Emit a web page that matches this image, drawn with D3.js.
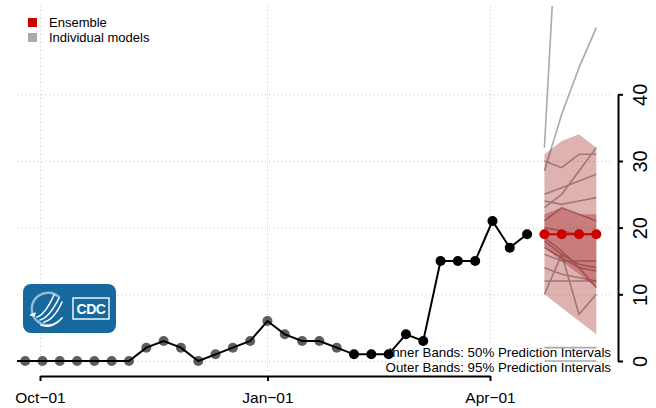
<!DOCTYPE html>
<html>
<head>
<meta charset="utf-8">
<script src="https://cdn.jsdelivr.net/npm/d3@7"></script>
<style>
  html, body { margin: 0; padding: 0; background: #fff; }
  svg { display: block; }
  text { font-family: "Liberation Sans", Arial, sans-serif; }
</style>
</head>
<body>
<svg id="chart" width="656" height="408"></svg>
<script>
// ---------- DATA ----------
const obsDates = ["2022-09-18","2022-09-25","2022-10-02","2022-10-09","2022-10-16","2022-10-23","2022-10-30",
  "2022-11-06","2022-11-13","2022-11-20","2022-11-27","2022-12-04","2022-12-11","2022-12-18","2022-12-25",
  "2023-01-01","2023-01-08","2023-01-15","2023-01-22","2023-01-29","2023-02-05","2023-02-12","2023-02-19",
  "2023-02-26","2023-03-05","2023-03-12","2023-03-19","2023-03-26","2023-04-02","2023-04-09","2023-04-16"];
const obsValues = [0,0,0,0,0,0,0, 0,2,3,2,0,1,2,3, 6,4,3,3,2,1,1,1, 4,3,15,15,15,21,17,19];
const greyThrough = "2023-01-29"; // older observations drawn in grey

const fcDates = ["2023-04-23","2023-04-30","2023-05-07","2023-05-14"];
const ensembleValues = [19, 19, 19, 19];
const inner50Lower = [17, 15, 13, 11];
const inner50Upper = [22, 23, 22, 22];
const outer95Lower = [10, 8, 6, 4];
const outer95Upper = [31, 33, 34, 32];

const modelForecasts = [
  [32, 79, 110, 140],
  [28.5, 37, 44, 50],
  [30, 29, 31, 31],
  [25, 26, 27, 28],
  [23, 25, 28.5, 32],
  [24, 23.5, 24, 24.5],
  [21, 23, 22, 21],
  [20, 19.5, 19, 19],
  [18.5, 16.5, 14, 11],
  [17, 15.5, 14, 13.5],
  [18, 16, 14.5, 14],
  [16, 15, 15, 15],
  [10, 16, 7, 10],
  [12, 12, 12, 12],
  [14, 13, 12.5, 12],
  [2, 2, 2, 2],
  [0, 0, 0, 0]
];

const xTickDates = ["2022-10-01", "2023-01-01", "2023-04-01"];
const xTickLabels = ["Oct\u221201", "Jan\u221201", "Apr\u221201"];
const yTickValues = [0, 10, 20, 30, 40];
const legendLabels = ["Ensemble", "Individual models"];
const noteLabels = ["Inner Bands: 50% Prediction Intervals", "Outer Bands: 95% Prediction Intervals"];

// ---------- SETUP ----------
const parse = d3.utcParse("%Y-%m-%d");
const svg = d3.select("#chart");

const x = d3.scaleUtc()
  .domain([parse("2022-10-01"), parse("2023-04-01")])
  .range([40, 490]);
const y = d3.scaleLinear().domain([0, 40]).range([361, 94.3]);

const plot = { left: 17, right: 613, top: 6, bottom: 371 };

svg.append("defs").append("clipPath").attr("id", "clip")
  .append("rect")
  .attr("x", plot.left).attr("y", plot.top)
  .attr("width", plot.right - plot.left).attr("height", plot.bottom - plot.top);

const obs = obsDates.map((d, i) => ({ date: parse(d), value: obsValues[i] }));
const fc = fcDates.map((d, i) => ({
  date: parse(d), ens: ensembleValues[i],
  lo50: inner50Lower[i], hi50: inner50Upper[i],
  lo95: outer95Lower[i], hi95: outer95Upper[i]
}));
const greyCut = parse(greyThrough);

// ---------- GRID ----------
const grid = svg.append("g").attr("stroke", "#c8c8c8").attr("stroke-width", 1)
  .attr("stroke-dasharray", "1,3");
grid.selectAll("line.h").data(yTickValues).join("line")
  .attr("x1", plot.left).attr("x2", plot.right)
  .attr("y1", d => y(d) + 0.5).attr("y2", d => y(d) + 0.5);
grid.selectAll("line.v").data(xTickDates).join("line")
  .attr("x1", d => Math.round(x(parse(d))) + 0.5).attr("x2", d => Math.round(x(parse(d))) + 0.5)
  .attr("y1", plot.top).attr("y2", plot.bottom);

// ---------- NOTES ----------
svg.append("g").selectAll("text").data(noteLabels).join("text")
  .attr("x", 611).attr("y", (d, i) => 357 + i * 14.5)
  .attr("text-anchor", "end")
  .attr("font-size", 13.3).attr("fill", "#000")
  .text(d => d);

const body = svg.append("g").attr("clip-path", "url(#clip)");

// ---------- MODEL LINES ----------
const mline = d3.line().x(d => x(d.date)).y(d => y(d.v));
body.append("g").selectAll("path").data(modelForecasts).join("path")
  .attr("d", vals => mline(vals.map((v, i) => ({ date: parse(fcDates[i]), v }))))
  .attr("fill", "none").attr("stroke", "#aaaaaa").attr("stroke-width", 1.6);

// ---------- BANDS ----------
const area95 = d3.area().x(d => x(d.date)).y0(d => y(d.lo95)).y1(d => y(d.hi95));
const area50 = d3.area().x(d => x(d.date)).y0(d => y(d.lo50)).y1(d => y(d.hi50));
body.append("path").attr("d", area95(fc)).attr("fill", "rgb(150,0,0)").attr("fill-opacity", 0.3);
body.append("path").attr("d", area50(fc)).attr("fill", "rgb(150,0,0)").attr("fill-opacity", 0.3);

// ---------- ENSEMBLE ----------
const eline = d3.line().x(d => x(d.date)).y(d => y(d.ens));
body.append("path").attr("d", eline(fc)).attr("fill", "none")
  .attr("stroke", "#cc0000").attr("stroke-width", 2);
body.append("g").selectAll("circle").data(fc).join("circle")
  .attr("cx", d => x(d.date)).attr("cy", d => y(d.ens)).attr("r", 5)
  .attr("fill", "#cc0000");

// ---------- OBSERVED ----------
const oline = d3.line().x(d => x(d.date)).y(d => y(d.value));
body.append("g").selectAll("circle").data(obs.filter(d => d.date <= greyCut)).join("circle")
  .attr("cx", d => x(d.date)).attr("cy", d => y(d.value)).attr("r", 5)
  .attr("fill", "#5e5e5e");
body.append("path").attr("d", oline(obs)).attr("fill", "none")
  .attr("stroke", "#000").attr("stroke-width", 2);
body.append("g").selectAll("circle").data(obs.filter(d => d.date > greyCut)).join("circle")
  .attr("cx", d => x(d.date)).attr("cy", d => y(d.value)).attr("r", 5)
  .attr("fill", "#000");

// ---------- AXES ----------
const xAxis = d3.axisBottom(x)
  .tickValues(xTickDates.map(parse))
  .tickFormat((d, i) => xTickLabels[i])
  .tickSize(5).tickSizeOuter(0);
const gx = svg.append("g").attr("transform", "translate(0,376)").call(xAxis);
gx.select(".domain").attr("stroke", "#000").attr("stroke-width", 2);
gx.selectAll(".tick line").attr("stroke", "#000").attr("stroke-width", 2);
gx.selectAll(".tick text").attr("font-size", 15.5).attr("fill", "#000")
  .attr("font-family", "Liberation Sans, Arial, sans-serif").attr("dy", "1.25em");

const yAxis = d3.axisRight(y).tickValues(yTickValues).tickSize(5).tickSizeOuter(0);
const gy = svg.append("g").attr("transform", "translate(618,0)").call(yAxis);
gy.select(".domain").attr("stroke", "#000").attr("stroke-width", 2);
gy.selectAll(".tick line").attr("stroke", "#000").attr("stroke-width", 2);
gy.selectAll(".tick text")
  .attr("font-size", 20).attr("fill", "#000")
  .attr("font-family", "Liberation Sans, Arial, sans-serif")
  .attr("x", null).attr("dy", null)
  .attr("text-anchor", "middle")
  .attr("transform", "translate(29,0) rotate(-90)");

// ---------- LEGEND ----------
const legendColors = ["#cc0000", "#aaaaaa"];
const lg = svg.append("g");
lg.selectAll("rect").data(legendLabels).join("rect")
  .attr("x", 28).attr("y", (d, i) => 18 + i * 15).attr("width", 9).attr("height", 9)
  .attr("fill", (d, i) => legendColors[i]);
lg.selectAll("text").data(legendLabels).join("text")
  .attr("x", 49).attr("y", (d, i) => 27 + i * 15)
  .attr("font-size", 13).attr("fill", "#000")
  .text(d => d);

// ---------- LOGO ----------
const logo = svg.append("g");
logo.append("rect").attr("x", 23).attr("y", 284).attr("width", 93).attr("height", 49)
  .attr("rx", 8).attr("fill", "#15699f");
const arc = d3.arc().innerRadius(15).outerRadius(17.5).startAngle(-3.4).endAngle(0.8);
logo.append("path").attr("d", arc()).attr("transform", "translate(48,309)")
  .attr("fill", "#ffffff").attr("fill-opacity", 0.55);
const eagle = logo.append("g").attr("fill", "none").attr("stroke", "#fff")
  .attr("stroke-linecap", "round");
eagle.append("path").attr("d", "M37,317 C44,315 49,306 54,295").attr("stroke-width", 1.6);
eagle.append("path").attr("d", "M40,320 C48,318 54,308 59,298").attr("stroke-width", 1.6);
eagle.append("path").attr("d", "M44,322 C52,320 58,311 62,302").attr("stroke-width", 1.6);
eagle.append("path").attr("d", "M41,325 C49,328 57,324 62,318").attr("stroke-width", 1.8);
eagle.append("path").attr("d", "M34,316 L30,315 L35,313 Z").attr("fill", "#fff").attr("stroke-width", 1);
logo.append("rect").attr("x", 73).attr("y", 298).attr("width", 36).attr("height", 21)
  .attr("fill", "none").attr("stroke", "#fff").attr("stroke-width", 1.4);
logo.append("text").attr("x", 91).attr("y", 314).attr("text-anchor", "middle")
  .attr("font-size", 14).attr("font-weight", "bold").attr("fill", "#fff")
  .attr("letter-spacing", "-0.5").text("CDC");
</script>
</body>
</html>
